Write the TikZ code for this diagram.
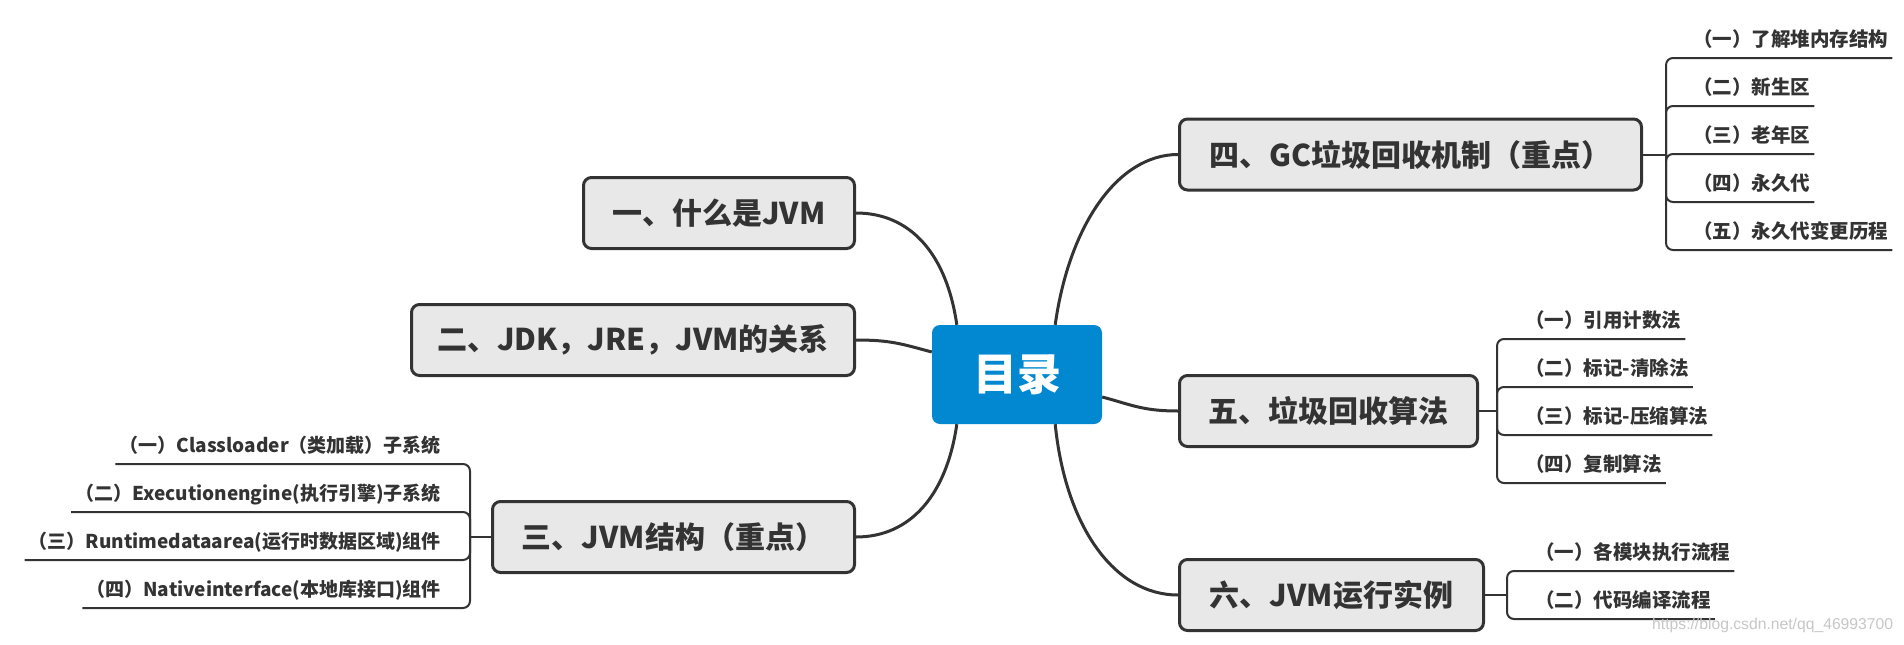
\documentclass[tikz,border=0pt]{standalone}
\usepackage{fontspec}
\newfontfamily\cjk{Noto Sans CJK SC}
\newfontfamily\wmfont{Liberation Sans}
\definecolor{rootblue}{HTML}{0288D1}
\definecolor{boxgray}{HTML}{E8E8E8}
\definecolor{inkgray}{HTML}{333333}
\newcommand\topicfont{\cjk\bfseries\fontsize{30}{36}\selectfont}
\tikzset{
  topic/.style={draw=inkgray, line width=3pt, fill=boxgray, rounded corners=8pt,
    minimum height=71pt, inner sep=0pt, font=\topicfont, text=inkgray},
  sub/.style={inner xsep=4pt, inner ysep=0pt, text height=16pt, text depth=11.5pt,
    font=\cjk\bfseries\fontsize{#1}{24}\selectfont, text=inkgray},
  sub/.default=19.5,
  branch/.style={draw=inkgray, line width=3pt},
  twig/.style={draw=inkgray, line width=2pt, rounded corners=7pt}
}
\begin{document}
\begin{tikzpicture}[x=1pt,y=-1pt]
      \useasboundingbox (0,0) rectangle (1904,645);
      \fill[white] (0,0) rectangle (1904,645);

      \node[fill=rootblue, rounded corners=8pt, minimum width=170pt, minimum height=99pt,
        text=white, font=\cjk\bfseries\fontsize{44}{50}\selectfont] (root) at (1017,374.5) {目录};

      \node[topic, minimum width=271pt] (n1) at (719,213) {一、什么是JVM};
      \node[topic, minimum width=443pt] (n2) at (633,340) {二、JDK，JRE，JVM的关系};
      \node[topic, minimum width=362pt] (n3) at (673.5,537) {三、JVM结构（重点）};
      \node[topic, minimum width=462pt] (n4) at (1410.5,154.5) {四、GC垃圾回收机制（重点）};
      \node[topic, minimum width=298pt] (n5) at (1328.5,411) {五、垃圾回收算法};
      \node[topic, minimum width=304pt] (n6) at (1331.5,595) {六、JVM运行实例};

      \draw[branch] ([xshift=25pt]root.north west) .. controls +(-10,-70) and +(55,0) .. (n1.east);
      \draw[branch] ([yshift=22.5pt]root.west) .. controls +(-30,-8) and +(35,0) .. (n2.east);
      \draw[branch] ([xshift=25pt]root.south west) .. controls +(-10,70) and +(55,0) .. (n3.east);
      \draw[branch] ([xshift=-47pt]root.north east) .. controls +(14,-100) and +(-60,0) .. (n4.west);
      \draw[branch] ([yshift=-22.5pt]root.east) .. controls +(30,8) and +(-35,0) .. (n5.west);
      \draw[branch] ([xshift=-47pt]root.south east) .. controls +(10,100) and +(-65,0) .. (n6.west);

      \node[sub=19, anchor=south east] (st1) at (445,464) {（一）Classloader（类加载）子系统};
      \node[sub=19, anchor=south east] (st2) at (445,512) {（二）Executionengine(执行引擎)子系统};
      \node[sub=19, anchor=south east] (st3) at (445,560) {（三）Runtimedataarea(运行时数据区域)组件};
      \node[sub=19, anchor=south east] (st4) at (445,608) {（四）Nativeinterface(本地库接口)组件};
      \coordinate (stfork) at ([xshift=-21pt]n3.west);
      \draw[twig] (n3.west) -- (stfork);
      \draw[twig] (stfork) |- (st1.south west);
      \draw[twig] (stfork) |- (st2.south west);
      \draw[twig] (stfork) |- (st3.south west);
      \draw[twig] (stfork) |- (st4.south west);

      \node[sub, anchor=south west] (gc1) at (1689,58) {（一）了解堆内存结构};
      \node[sub, anchor=south west] (gc2) at (1689,106) {（二）新生区};
      \node[sub, anchor=south west] (gc3) at (1689,154) {（三）老年区};
      \node[sub, anchor=south west] (gc4) at (1689,202) {（四）永久代};
      \node[sub, anchor=south west] (gc5) at (1689,250) {（五）永久代变更历程};
      \coordinate (gcfork) at ([xshift=23pt]n4.east);
      \draw[twig] (n4.east) -- (gcfork);
      \draw[twig] (gcfork) |- (gc1.south east);
      \draw[twig] (gcfork) |- (gc2.south east);
      \draw[twig] (gcfork) |- (gc3.south east);
      \draw[twig] (gcfork) |- (gc4.south east);
      \draw[twig] (gcfork) |- (gc5.south east);

      \node[sub, anchor=south west] (alg1) at (1521,339) {（一）引用计数法};
      \node[sub, anchor=south west] (alg2) at (1521,387) {（二）标记-清除法};
      \node[sub, anchor=south west] (alg3) at (1521,435) {（三）标记-压缩算法};
      \node[sub, anchor=south west] (alg4) at (1521,483) {（四）复制算法};
      \coordinate (algfork) at ([xshift=18pt]n5.east);
      \draw[twig] (n5.east) -- (algfork);
      \draw[twig] (algfork) |- (alg1.south east);
      \draw[twig] (algfork) |- (alg2.south east);
      \draw[twig] (algfork) |- (alg3.south east);
      \draw[twig] (algfork) |- (alg4.south east);

      \node[sub, anchor=south west] (run1) at (1531,571) {（一）各模块执行流程};
      \node[sub, anchor=south west] (run2) at (1531,619) {（二）代码编译流程};
      \coordinate (runfork) at ([xshift=22pt]n6.east);
      \draw[twig] (n6.east) -- (runfork);
      \draw[twig] (runfork) |- (run1.south east);
      \draw[twig] (runfork) |- (run2.south east);

      \node[anchor=west, inner sep=0pt, text=black!22, font=\wmfont\fontsize{15.7}{18}\selectfont] (mark) at (1652,625) {https://blog.csdn.net/qq\_46993700};
\end{tikzpicture}
\end{document}
